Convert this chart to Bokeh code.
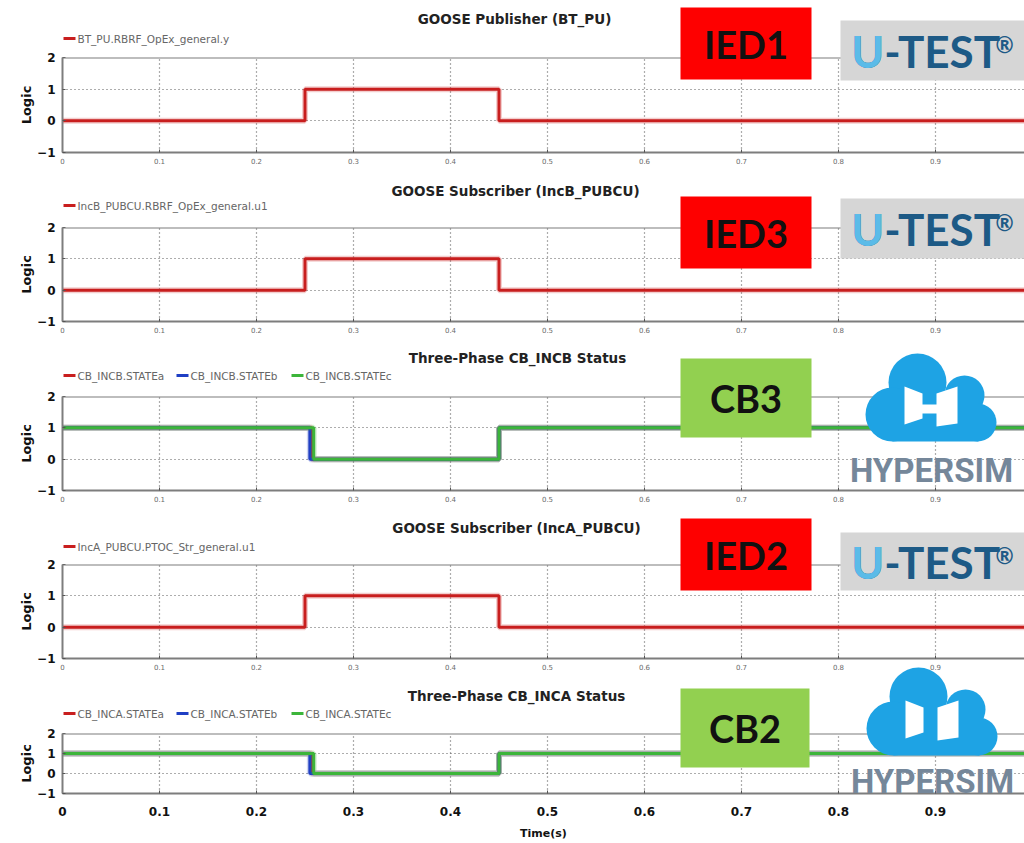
from bokeh.plotting import figure
from bokeh.layouts import column
from bokeh.models import Range1d, FixedTicker, Span
from bokeh.core.properties import value
from bokeh.embed import file_html
from bokeh.resources import INLINE

# ------------------------------------------------------------------ data
x_ticks = [0.0, 0.1, 0.2, 0.3, 0.4, 0.5, 0.6, 0.7, 0.8, 0.9]
x_tick_labels = ["0", "0.1", "0.2", "0.3", "0.4", "0.5", "0.6", "0.7", "0.8", "0.9"]
y_ticks = [-1, 0, 1, 2]

# GOOSE Publisher (BT_PU)
pub_t = [0.0, 0.25, 0.45, 1.0]
pub_v = [0, 1, 0, 0]
# GOOSE Subscriber (IncB_PUBCU)
incb_t = [0.0, 0.25, 0.45, 1.0]
incb_v = [0, 1, 0, 0]
# Three-Phase CB_INCB Status
cb3_a_t = [0.0, 0.257, 0.45, 1.0]
cb3_a_v = [1, 0, 1, 1]
cb3_b_t = [0.0, 0.255, 0.45, 1.0]
cb3_b_v = [1, 0, 1, 1]
cb3_c_t = [0.0, 0.259, 0.45, 1.0]
cb3_c_v = [1, 0, 1, 1]
# GOOSE Subscriber (IncA_PUBCU)
inca_t = [0.0, 0.25, 0.45, 1.0]
inca_v = [0, 1, 0, 0]
# Three-Phase CB_INCA Status
cb2_a_t = [0.0, 0.257, 0.45, 1.0]
cb2_a_v = [1, 0, 1, 1]
cb2_b_t = [0.0, 0.255, 0.45, 1.0]
cb2_b_v = [1, 0, 1, 1]
cb2_c_t = [0.0, 0.259, 0.45, 1.0]
cb2_c_v = [1, 0, 1, 1]

titles = ["GOOSE Publisher (BT_PU)", "GOOSE Subscriber (IncB_PUBCU)",
          "Three-Phase CB_INCB Status", "GOOSE Subscriber (IncA_PUBCU)",
          "Three-Phase CB_INCA Status"]
badge_texts = ["IED1", "IED3", "CB3", "IED2", "CB2"]

series = [
    [("BT_PU.RBRF_OpEx_general.y", pub_t, pub_v, "red")],
    [("IncB_PUBCU.RBRF_OpEx_general.u1", incb_t, incb_v, "red")],
    [("CB_INCB.STATEa", cb3_a_t, cb3_a_v, "red"),
     ("CB_INCB.STATEb", cb3_b_t, cb3_b_v, "blue"),
     ("CB_INCB.STATEc", cb3_c_t, cb3_c_v, "green")],
    [("IncA_PUBCU.PTOC_Str_general.u1", inca_t, inca_v, "red")],
    [("CB_INCA.STATEa", cb2_a_t, cb2_a_v, "red"),
     ("CB_INCA.STATEb", cb2_b_t, cb2_b_v, "blue"),
     ("CB_INCA.STATEc", cb2_c_t, cb2_c_v, "green")],
]

# ------------------------------------------------------------------ styles / layout
COLORS = {"red": "#c81e1e", "blue": "#1f3fc4", "green": "#3cb53a"}
FONT = "DejaVu Sans"
FIG_W = 1024
LEFT = 62
PX_PER_UNIT = 970.0
X_END = (FIG_W - LEFT) / PX_PER_UNIT
FIG_TOP = [0, 177, 346, 515, 683]
B_TOP = [57, 50, 50, 49, 50]
FRAME_H = [95, 94, 94, 94, 60]
B_BOT = [25, 25, 25, 25, 49]
FT = [FIG_TOP[i] + B_TOP[i] for i in range(5)]


def X(px):
    return (px - LEFT) / PX_PER_UNIT


def Y(i, py):
    return 2 - 3.0 * (py - FT[i]) / FRAME_H[i]


TITLE_POS = [(514, 18), (515, 190), (517, 357), (516, 527), (516, 695)]
LEGEND_Y = [38, 205, 375, 546, 713]
LEGEND_X = [63, 176, 291]
BADGE_BOX = [(680, 7, 811, 79), (680, 196, 811, 268), (680, 358, 811, 437),
             (680, 518, 811, 590), (680, 688, 809, 767)]
BADGE_COL = ["#fe0000", "#fe0000", "#92d050", "#fe0000", "#92d050"]
UTEST_BOX = {0: (840, 20, 1024, 80), 1: (840, 198, 1024, 258), 3: (840, 532, 1024, 590)}
CLOUD = {2: [(2, 865, 353, 931, 470)], 3: [(4, 866, 667, 932, 781)], 4: [(4, 866, 667, 932, 781)]}


def draw_cloud(p, i, left, top, tx, ty, show_text):
    col = "#1ea3e4"
    circ = [(52, 29, 29), (99, 42, 20), (27, 61, 27), (112, 69, 19)]
    p.scatter([X(left + c[0]) for c in circ], [Y(i, top + c[1]) for c in circ],
              size=[2 * c[2] for c in circ], marker="circle",
              fill_color=col, line_color=None, level="overlay")
    p.quad(left=[X(left + 27)], right=[X(left + 113)], top=[Y(i, top + 40)],
           bottom=[Y(i, top + 88)], fill_color=col, line_color=None, level="overlay")
    doors = [[(39, 33), (57, 40), (57, 65), (39, 71)],
             [(71, 40), (92, 33), (92, 70), (71, 73)],
             [(56, 51), (72, 51), (72, 60), (56, 60)]]
    p.patches([[X(left + a) for a, b in d] for d in doors],
              [[Y(i, top + b) for a, b in d] for d in doors],
              fill_color="white", line_color=None, level="overlay")
    if show_text:
        p.text([X(tx)], [Y(i, ty)], text=["HYPERSIM"], text_font=value("Roboto"),
               text_font_style="bold", text_font_size="33px", text_color="#75879a",
               text_align="center", text_baseline="middle", level="overlay")


figs = []
for i in range(5):
    h = B_TOP[i] + FRAME_H[i] + B_BOT[i]
    p = figure(width=FIG_W, height=h, output_backend="svg", toolbar_location=None,
               x_range=Range1d(0, X_END), y_range=Range1d(-1, 2),
               min_border_left=LEFT, min_border_right=0,
               min_border_top=B_TOP[i], min_border_bottom=B_BOT[i])
    p.outline_line_color = None
    p.background_fill_color = "white"
    p.border_fill_color = "white"

    # grid
    p.xgrid.ticker = FixedTicker(ticks=x_ticks)
    p.ygrid.ticker = FixedTicker(ticks=y_ticks)
    for g in (p.xgrid, p.ygrid):
        g.grid_line_color = "#5a5a5a"
        g.grid_line_dash = "1 3"
        g.grid_line_width = 1.2

    # axes
    p.xaxis.ticker = FixedTicker(ticks=x_ticks)
    p.xaxis.major_label_overrides = {t: s for t, s in zip(x_ticks, x_tick_labels)}
    p.yaxis.ticker = FixedTicker(ticks=y_ticks)
    for ax in (p.xaxis, p.yaxis):
        ax.axis_line_color = "#7d7d7d"
        ax.axis_line_width = 2
        ax.major_tick_line_color = "#555555"
        ax.minor_tick_line_color = None
        ax.major_tick_out = 0
        ax.major_tick_in = 3
    p.yaxis.axis_label = "Logic"
    p.yaxis.axis_label_text_font = FONT
    p.yaxis.axis_label_text_font_style = "bold"
    p.yaxis.axis_label_text_font_size = "13px"
    p.yaxis.axis_label_text_color = "#111111"
    p.yaxis.axis_label_standoff = 0
    p.yaxis.major_label_text_font = FONT
    p.yaxis.major_label_text_font_style = "bold"
    p.yaxis.major_label_text_font_size = "12px"
    p.yaxis.major_label_text_color = "#111111"
    p.yaxis.major_label_standoff = 7
    p.xaxis.major_label_text_font = FONT
    if i < 4:
        p.xaxis.major_label_text_font_size = "7px"
        p.xaxis.major_label_text_color = "#6a6a6a"
        p.xaxis.major_label_standoff = 5
    else:
        p.xaxis.major_label_text_font_size = "12px"
        p.xaxis.major_label_text_font_style = "bold"
        p.xaxis.major_label_text_color = "#111111"
        p.xaxis.major_label_standoff = 13
        p.xaxis.axis_label = "Time(s)"
        p.xaxis.axis_label_text_font = FONT
        p.xaxis.axis_label_text_font_style = "bold"
        p.xaxis.axis_label_text_font_size = "11px"
        p.xaxis.axis_label_text_color = "#111111"
        p.xaxis.axis_label_standoff = 8

    p.add_layout(Span(location=2, dimension="width", line_color="#7d7d7d", line_width=2))

    # series (with a faint halo like the reference's soft line edges)
    for k, (name, t, v, c) in enumerate(series[i]):
        p.step(t, v, mode="after", line_color=COLORS[c], line_width=6, line_alpha=0.22)
        p.step(t, v, mode="after", line_color=COLORS[c], line_width=3)
        # legend entry (drawn above the frame)
        lx = LEGEND_X[k]
        ly = Y(i, LEGEND_Y[i])
        p.segment(x0=[X(lx)], x1=[X(lx + 12)], y0=[ly], y1=[ly], line_color=COLORS[c],
                  line_width=3, level="overlay")
        p.text([X(lx + 14)], [ly], text=[name], text_font=value(FONT),
               text_font_size="10.5px", text_color="#666666", text_align="left",
               text_baseline="middle", level="overlay")

    # title
    tx, ty = TITLE_POS[i]
    p.text([X(tx)], [Y(i, ty)], text=[titles[i]], text_font=value(FONT),
           text_font_style="bold", text_font_size="13.5px", text_color="#222222",
           text_align="center", text_baseline="middle", level="overlay")

    # badge
    l, t, r_, b = BADGE_BOX[i]
    p.quad(left=[X(l)], right=[X(r_)], top=[Y(i, t)], bottom=[Y(i, b)],
           fill_color=BADGE_COL[i], line_color=None, level="overlay")
    p.text([X((l + r_) / 2)], [Y(i, (t + b) / 2)], text=[badge_texts[i]],
           text_font=value("Lato"), text_font_style="bold", text_font_size="38px",
           text_color="#111111", text_align="center", text_baseline="middle",
           level="overlay")

    # U-TEST logo
    if i in UTEST_BOX:
        l, t, r_, b = UTEST_BOX[i]
        p.quad(left=[X(l)], right=[X(r_)], top=[Y(i, t)], bottom=[Y(i, b)],
               fill_color="#d6d6d6", line_color=None, level="overlay")
        cy = (t + b) / 2
        p.text([X(851)], [Y(i, cy)], text=["U-TEST"], text_font=value("Lato"),
               text_font_style="bold", text_font_size="44px", text_color="#1d5a86",
               text_align="left", text_baseline="middle", level="overlay")
        p.text([X(851)], [Y(i, cy)], text=["U"], text_font=value("Lato"),
               text_font_style="bold", text_font_size="44px", text_color="#5bbbe8",
               text_align="left", text_baseline="middle", level="overlay")
        p.text([X(995)], [Y(i, cy - 20)], text=["®"], text_font=value("Lato"),
               text_font_style="bold", text_font_size="22px", text_color="#1d5a86",
               text_align="left", text_baseline="top", level="overlay")

    # HYPERSIM logo
    if i in CLOUD:
        for (pi, cl, ct, htx, hty) in CLOUD[i]:
            draw_cloud(p, i, cl, ct, htx, hty, show_text=(pi == i))

    figs.append(p)

layout = column(*figs, spacing=0)
open("out.html", "w").write(file_html(layout, INLINE))
